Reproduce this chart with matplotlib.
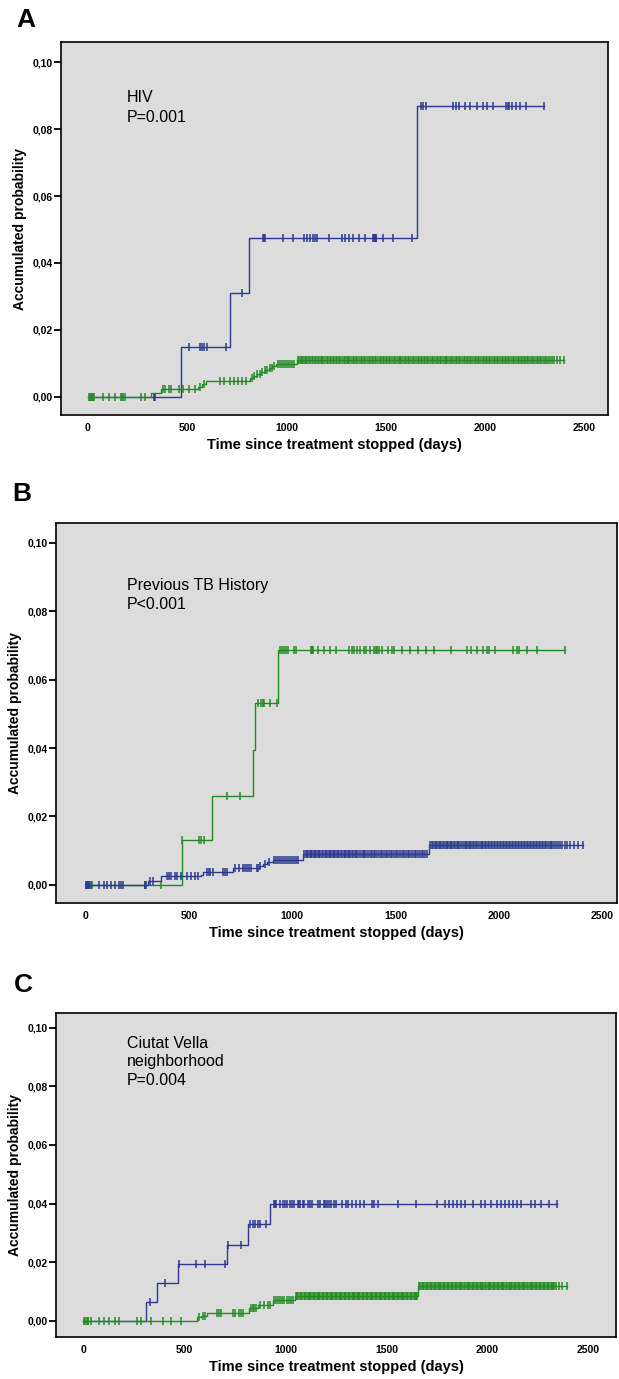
import numpy as np
import matplotlib
matplotlib.use('Agg')
import matplotlib.pyplot as plt
from matplotlib.ticker import FuncFormatter

plt.rcParams['font.family'] = ['Liberation Sans', 'DejaVu Sans']

W, H, DPI = 619, 1379, 100
BLUE = '#2b3990'
GREEN = '#258a25'
BG = '#dcdcdc'

# ---------------- Panel A : HIV ----------------
a_blue_t = [0, 467, 717, 811, 1659]
a_blue_p = [0.0, 0.0148, 0.0310, 0.0474, 0.0870]
a_blue_end = 2300
a_blue_cens = [333, 338, 511, 567, 577, 587, 601, 697, 777,
               883, 887, 891, 982, 1034, 1088, 1102, 1118, 1132, 1144, 1152, 1214,
               1278, 1294, 1318, 1334, 1368, 1394, 1438, 1442, 1446, 1450, 1454,
               1488, 1538, 1635,
               1679, 1689, 1703, 1839, 1855, 1869, 1899, 1925, 1959, 1989, 2009,
               2039, 2109, 2115, 2123, 2139, 2159, 2179, 2210, 2296]

a_green_t = [0, 317, 367, 557, 577, 597, 817, 835, 850, 870, 890, 910, 930, 948, 1054]
a_green_p = [0.0, 0.0012, 0.0024, 0.0030, 0.0038, 0.0047, 0.0056, 0.0062, 0.0068,
             0.0074, 0.0080, 0.0086, 0.0092, 0.0098, 0.0111]
a_green_end = 2400
a_green_cens = [6, 12, 16, 22, 26, 32, 76, 106, 136, 166, 170, 176, 186, 266, 286,
                377, 387, 407, 417, 457, 477, 507, 537, 567, 587,
                667, 687, 717, 737, 757, 777, 797,
                827, 837, 853, 867, 877, 893, 901, 917, 927, 937, 958, 968, 978,
                988, 998, 1008, 1018, 1028, 1038,
                1060, 1066, 1073, 1079, 1086, 1094, 1099, 1106, 1114, 1121, 1127, 1135,
                1142, 1151, 1158, 1164, 1173, 1181, 1187, 1195, 1204, 1210, 1218, 1226,
                1233, 1241, 1250, 1256, 1265, 1272, 1280, 1289, 1295, 1303, 1312, 1318,
                1327, 1335, 1342, 1351, 1358, 1366, 1375, 1381, 1390, 1398, 1405, 1414,
                1422, 1430, 1437, 1446, 1453, 1461, 1470, 1476, 1485, 1493, 1500, 1509,
                1517, 1524, 1533, 1541, 1548, 1556, 1566, 1572, 1580, 1589, 1596, 1604,
                1613, 1620, 1628, 1637, 1644, 1652, 1661, 1668, 1676, 1685, 1692, 1700,
                1709, 1716, 1724, 1733, 1740, 1748, 1757, 1764, 1772, 1781, 1788, 1797,
                1805, 1812, 1820, 1829, 1836, 1845, 1853, 1860, 1869, 1877, 1884, 1893,
                1901, 1908, 1917, 1925, 1932, 1941, 1949, 1956, 1965, 1973, 1980, 1989,
                1997, 2004, 2013, 2021, 2028, 2037, 2045, 2052, 2061, 2069, 2076, 2085,
                2093, 2100, 2109, 2117, 2124, 2133, 2141, 2148, 2157, 2165, 2172, 2181,
                2189, 2196, 2205, 2213, 2220, 2229, 2237, 2244, 2253, 2261, 2268, 2277,
                2285, 2292, 2301, 2310, 2318, 2328, 2337, 2350, 2364, 2380, 2398]

# ---------------- Panel B : Previous TB history ----------------
b_green_t = [0, 467, 612, 810, 817, 933]
b_green_p = [0.0, 0.0130, 0.0260, 0.0395, 0.0533, 0.0688]
b_green_end = 2317
b_green_cens = [2, 19, 29, 288, 365, 467, 548, 558, 571, 683, 746,
                836, 846, 856, 865, 894, 927,
                942, 952, 962, 971, 981, 1010, 1019, 1090, 1093, 1096, 1102, 1125,
                1154, 1183, 1212, 1275, 1288, 1298, 1313, 1327, 1346, 1356, 1375,
                1394, 1404, 1410, 1417, 1433, 1462, 1481, 1490, 1529, 1567, 1606,
                1644, 1683, 1769, 1846, 1865, 1894, 1923, 1942, 1952, 1981, 2067,
                2087, 2096, 2135, 2183, 2317]

b_blue_t = [0, 302, 365, 558, 567, 712, 837, 856, 875, 904, 1052, 1660]
b_blue_p = [0.0, 0.0012, 0.0025, 0.0030, 0.0037, 0.0049, 0.0055, 0.0060, 0.0066,
            0.0074, 0.0090, 0.0117]
b_blue_end = 2404
b_blue_cens = [4, 8, 13, 17, 25, 67, 90, 106, 125, 144, 160, 173, 183, 288, 294,
               313, 327, 394, 404, 413, 433, 442, 462, 490, 510, 529, 544,
               587, 596, 602, 615, 663, 673, 683,
               721, 740, 760, 769, 779, 788, 798, 827, 833, 845, 866, 885, 913, 923,
               933, 942, 952, 962, 971, 981, 990, 1000, 1010, 1019, 1029,
               1058, 1064, 1070, 1077, 1083, 1090, 1096, 1103, 1110, 1116, 1123, 1129,
               1136, 1142, 1149, 1156, 1162, 1169, 1175, 1182, 1189, 1195, 1202, 1208,
               1215, 1222, 1228, 1235, 1241, 1248, 1255, 1261, 1268, 1275, 1281, 1288,
               1295, 1301, 1308, 1315, 1321, 1330, 1340, 1347, 1353, 1362, 1371, 1378,
               1386, 1394, 1401, 1410, 1418, 1427, 1434, 1442, 1451, 1459, 1466, 1475,
               1483, 1492, 1500, 1507, 1516, 1524, 1533, 1541, 1550, 1558, 1566, 1575,
               1583, 1592, 1600, 1608, 1617, 1625, 1634, 1642, 1650,
               1668, 1675, 1681, 1688, 1694, 1701, 1708, 1714, 1721, 1728, 1734, 1741,
               1747, 1754, 1761, 1767, 1774, 1781, 1787, 1794, 1801, 1807, 1814, 1823,
               1833, 1840, 1846, 1853, 1860, 1866, 1873, 1880, 1886, 1893, 1901, 1910,
               1917, 1923, 1930, 1937, 1945, 1952, 1959, 1966, 1973, 1981, 1988, 1995,
               2002, 2010, 2017, 2024, 2031, 2039, 2046, 2053, 2060, 2068, 2075, 2082,
               2090, 2097, 2104, 2112, 2119, 2126, 2134, 2141, 2148, 2156, 2163, 2170,
               2178, 2185, 2192, 2200, 2207, 2214, 2222, 2229, 2236, 2244, 2251, 2258,
               2266, 2275, 2286, 2295, 2306, 2318, 2330, 2345, 2360, 2380, 2404]

# ---------------- Panel C : Ciutat Vella ----------------
c_blue_t = [0, 311, 364, 467, 711, 813, 925]
c_blue_p = [0.0, 0.0065, 0.0128, 0.0194, 0.0260, 0.0330, 0.0398]
c_blue_end = 2346
c_blue_cens = [331, 404, 472, 555, 602, 703, 715, 778, 823, 837, 850, 862, 876, 902,
               945, 950, 955, 975, 988, 1000, 1008, 1020, 1033, 1043, 1063, 1068, 1073,
               1087, 1093, 1112, 1122, 1132, 1161, 1171, 1191, 1197, 1205, 1215, 1224,
               1240, 1250, 1280, 1299, 1309, 1329, 1348, 1368, 1388, 1427, 1437, 1457,
               1555, 1644, 1752, 1791, 1811, 1831, 1850, 1870, 1890, 1929, 1969, 1988,
               2018, 2047, 2067, 2087, 2106, 2126, 2146, 2165, 2215, 2234, 2264, 2303, 2346]

c_green_t = [0, 561, 581, 610, 817, 866, 937, 1047, 1657]
c_green_p = [0.0, 0.0012, 0.0017, 0.0028, 0.0043, 0.0055, 0.0072, 0.0086, 0.0119]
c_green_end = 2392
c_green_cens = [4, 10, 16, 20, 24, 35, 79, 102, 128, 157, 177, 266, 285, 335, 394, 433, 482,
                571, 590, 600, 659, 669, 679, 738, 748, 768, 778, 791,
                827, 837, 846, 856, 876, 896, 915, 925,
                945, 955, 965, 975, 985, 995, 1005, 1015, 1025, 1035,
                1052, 1058, 1064, 1071, 1077, 1083, 1090, 1096, 1103, 1109, 1115, 1122,
                1128, 1135, 1141, 1147, 1154, 1160, 1167, 1173, 1179, 1186, 1192, 1199,
                1205, 1211, 1218, 1224, 1231, 1237, 1243, 1250, 1256, 1263, 1269, 1275,
                1282, 1288, 1295, 1301, 1307, 1314, 1320, 1327, 1333, 1339, 1346, 1352,
                1359, 1365, 1371, 1378, 1384, 1391, 1397, 1403, 1410, 1416, 1423, 1429,
                1435, 1442, 1448, 1455, 1461, 1467, 1474, 1480, 1487, 1493, 1499, 1506,
                1512, 1519, 1525, 1531, 1538, 1544, 1551, 1557, 1563, 1570, 1576, 1583,
                1589, 1595, 1602, 1608, 1615, 1621, 1627, 1634, 1640, 1647, 1653,
                1662, 1668, 1675, 1681, 1688, 1694, 1701, 1707, 1714, 1720, 1727, 1733,
                1740, 1746, 1753, 1759, 1766, 1772, 1779, 1785, 1792, 1798, 1805, 1811,
                1818, 1824, 1831, 1837, 1844, 1850, 1857, 1863, 1870, 1876, 1883, 1889,
                1896, 1902, 1909, 1915, 1922, 1928, 1935, 1941, 1948, 1954, 1961, 1967,
                1974, 1980, 1987, 1993, 2000, 2006, 2013, 2019, 2026, 2032, 2039, 2045,
                2052, 2058, 2065, 2071, 2078, 2084, 2091, 2097, 2104, 2110, 2117, 2123,
                2130, 2136, 2143, 2149, 2156, 2162, 2169, 2175, 2182, 2188, 2195, 2201,
                2208, 2214, 2221, 2227, 2234, 2240, 2247, 2253, 2260, 2266, 2273, 2279,
                2286, 2292, 2299, 2305, 2312, 2318, 2325, 2331, 2340, 2356, 2370, 2392]

y_ticks = [0.0, 0.02, 0.04, 0.06, 0.08, 0.10]
x_ticks = [0, 500, 1000, 1500, 2000, 2500]


def px_rect(l, r, t, b):
    return [l / W, 1 - b / H, (r - l) / W, (b - t) / H]


def km(ax, t, p, end, cens, color, z):
    xs = list(t) + [end]
    ys = list(p) + [p[-1]]
    ax.step(xs, ys, where='post', color=color, lw=1.0, zorder=z)
    t_arr = np.asarray(t)
    cy = [p[np.searchsorted(t_arr, c, side='right') - 1] for c in cens]
    ax.plot(cens, cy, ls='none', marker='|', ms=6, mew=1.1, color=color, zorder=z)


def style(ax, xlim, ylim):
    ax.set_facecolor(BG)
    ax.set_xlim(*xlim)
    ax.set_ylim(*ylim)
    ax.set_yticks(y_ticks)
    ax.set_xticks(x_ticks)
    ax.yaxis.set_major_formatter(FuncFormatter(lambda v, _: f"{v:.2f}".replace('.', ',')))
    ax.tick_params(axis='y', length=5, width=1.3, labelsize=7.5, pad=1)
    ax.tick_params(axis='x', length=0, labelsize=7.5, pad=6)
    for lab in ax.get_xticklabels() + ax.get_yticklabels():
        lab.set_fontweight('bold')
    for s in ax.spines.values():
        s.set_linewidth(1.2)
    ax.set_xlabel('Time since treatment stopped (days)', fontsize=10.5,
                  fontweight='bold', labelpad=3)
    ax.set_ylabel('Accumulated probability', fontsize=10, fontweight='bold', labelpad=4)


fig = plt.figure(figsize=(W / DPI, H / DPI), dpi=DPI)

# Panel A
axA = fig.add_axes(px_rect(61, 608, 42, 415))
km(axA, a_blue_t, a_blue_p, a_blue_end, a_blue_cens, BLUE, 2)
km(axA, a_green_t, a_green_p, a_green_end, a_green_cens, GREEN, 3)
style(axA, (-136, 2621), (-0.0054, 0.106))
axA.text(0.12, 0.87, 'HIV\nP=0.001', transform=axA.transAxes, fontsize=11.5,
         va='top', ha='left', linespacing=1.35)
fig.text(16 / W, 1 - 20 / H, 'A', fontsize=19, fontweight='bold', va='center', ha='left')

# Panel B
axB = fig.add_axes(px_rect(56, 617, 523, 903))
km(axB, b_green_t, b_green_p, b_green_end, b_green_cens, GREEN, 2)
km(axB, b_blue_t, b_blue_p, b_blue_end, b_blue_cens, BLUE, 3)
style(axB, (-143, 2570), (-0.0053, 0.1058))
axB.text(0.127, 0.855, 'Previous TB History\nP<0.001', transform=axB.transAxes,
         fontsize=11.5, va='top', ha='left', linespacing=1.35)
fig.text(12 / W, 1 - 494 / H, 'B', fontsize=19, fontweight='bold', va='center', ha='left')

# Panel C
axC = fig.add_axes(px_rect(56, 616, 1013, 1337))
km(axC, c_blue_t, c_blue_p, c_blue_end, c_blue_cens, BLUE, 2)
km(axC, c_green_t, c_green_p, c_green_end, c_green_cens, GREEN, 3)
style(axC, (-136, 2636), (-0.0055, 0.105))
axC.text(0.127, 0.93, 'Ciutat Vella\nneighborhood\nP=0.004', transform=axC.transAxes,
         fontsize=11.5, va='top', ha='left', linespacing=1.3)
fig.text(14 / W, 1 - 985 / H, 'C', fontsize=19, fontweight='bold', va='center', ha='left')

fig.savefig('out.png', dpi=DPI)
